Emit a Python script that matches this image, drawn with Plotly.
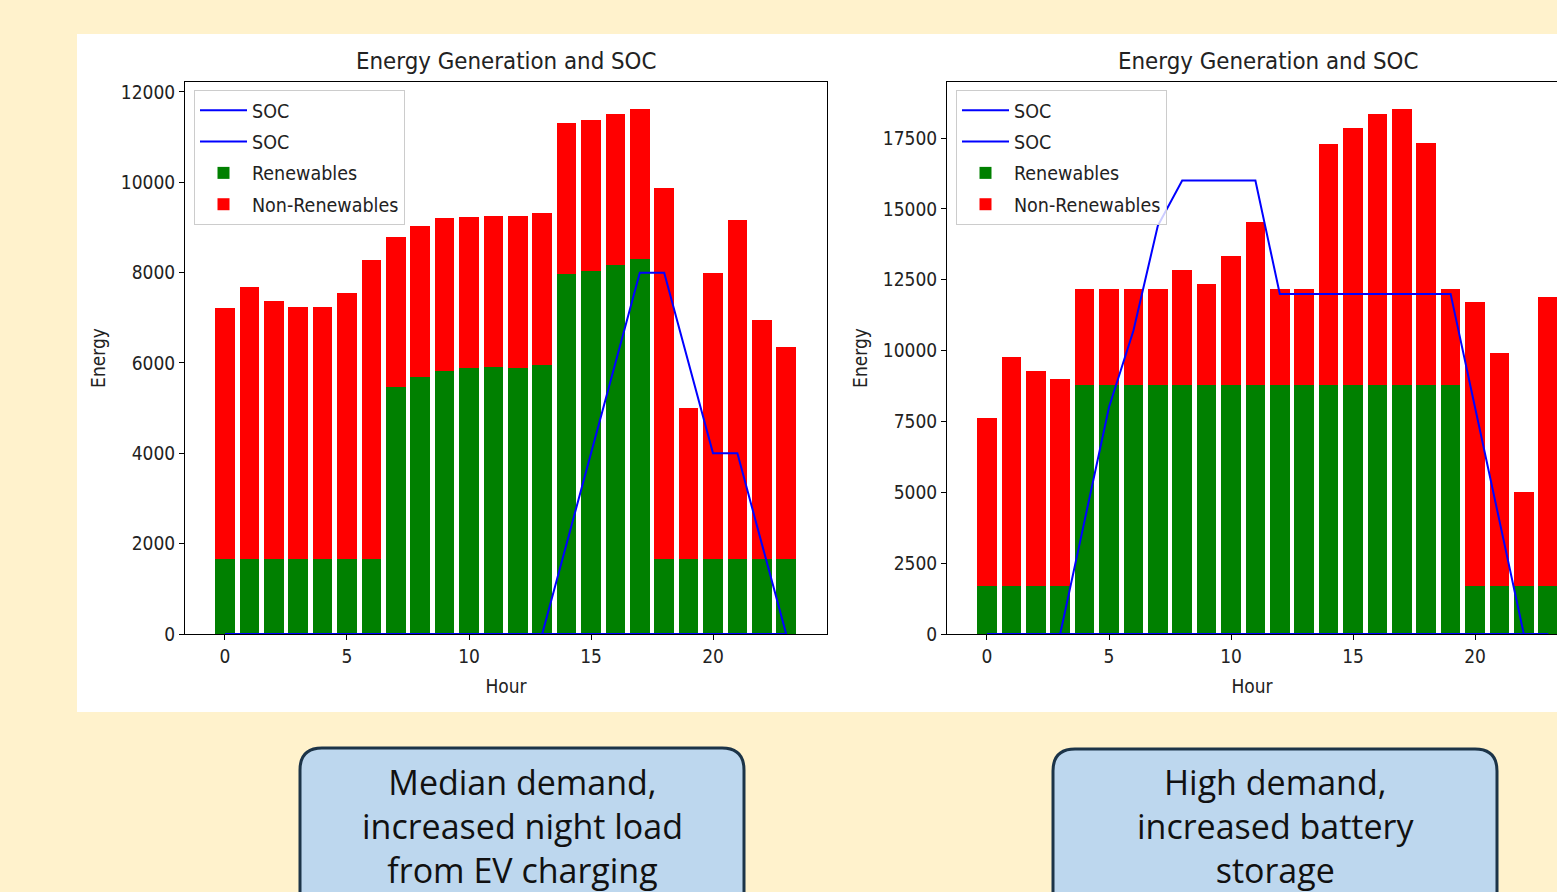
import plotly.graph_objects as go

# ---- canvas geometry (pixels) ----
W, H = 1557, 892


def px(x):
    return x / W


def py(y):
    return 1 - y / H


FONT = "DejaVu Sans Condensed, DejaVu Sans, sans-serif"
TXT = "#222222"

hours = list(range(24))

# ---- median demand scenario ----
median_renewables = [1650] * 7 + [5460, 5690, 5820, 5900, 5920, 5900, 5950,
                                  7970, 8030, 8170, 8300] + [1650] * 6
median_nonrenewables = [5570, 6030, 5730, 5590, 5590, 5890, 6620,
                        3340, 3340, 3380, 3330, 3330, 3350, 3380,
                        3340, 3340, 3340, 3330,
                        8230, 3350, 6350, 7510, 5300, 4700]
median_soc = [0] * 14 + [2000, 4000, 6000, 8000, 8000, 6000, 4000, 4000, 2000, 0]
median_soc_base = [0] * 24

# ---- high demand scenario ----
high_renewables = [1680] * 4 + [8800] * 16 + [1680] * 4
high_nonrenewables = [5950, 8080, 7590, 7330,
                      3370, 3370, 3370, 3370, 4050, 3540, 4540, 5720,
                      3370, 3370, 8480, 9050, 9530, 9720, 8530, 3370,
                      10020, 8220, 3330, 10220]
high_soc = [0, 0, 0, 0, 4000, 8000, 10700, 14400, 16000, 16000, 16000, 16000,
            12000, 12000, 12000, 12000, 12000, 12000, 12000, 12000,
            8000, 4000, 0, 0]
high_soc_base = [0] * 24

x_ticks = [0, 5, 10, 15, 20]
median_y_ticks = [0, 2000, 4000, 6000, 8000, 10000, 12000]
high_y_ticks = [0, 2500, 5000, 7500, 10000, 12500, 15000, 17500]

fig = go.Figure()


def add_panel(xa, ya, leg, soc, soc_base, renew, nonrenew):
    fig.add_trace(go.Scatter(x=hours, y=soc, mode="lines", name="SOC",
                             line=dict(color="blue", width=2),
                             xaxis=xa, yaxis=ya, legend=leg,
                             legendgroup=leg + "1", legendrank=1))
    fig.add_trace(go.Scatter(x=hours, y=soc_base, mode="lines", name="SOC",
                             line=dict(color="blue", width=2),
                             xaxis=xa, yaxis=ya, legend=leg,
                             legendgroup=leg + "2", legendrank=2))
    fig.add_trace(go.Bar(x=hours, y=renew, name="Renewables", width=0.8,
                         marker=dict(color="green", line=dict(width=0)),
                         xaxis=xa, yaxis=ya, legend=leg,
                         legendgroup=leg + "3", legendrank=3))
    fig.add_trace(go.Bar(x=hours, y=nonrenew, name="Non-Renewables", width=0.8,
                         marker=dict(color="red", line=dict(width=0)),
                         xaxis=xa, yaxis=ya, legend=leg,
                         legendgroup=leg + "4", legendrank=4))


add_panel("x", "y", "legend", median_soc, median_soc_base,
          median_renewables, median_nonrenewables)
add_panel("x2", "y2", "legend2", high_soc, high_soc_base,
          high_renewables, high_nonrenewables)

tick_font = dict(family=FONT, size=19, color=TXT)
axis_common = dict(ticks="outside", ticklen=5, tickwidth=1, tickcolor="black",
                   showline=True, linecolor="black", linewidth=1,
                   showgrid=False, zeroline=False, tickfont=tick_font,
                   fixedrange=True, automargin=False)

legend_common = dict(xanchor="left", yanchor="top",
                     bgcolor="rgba(255,255,255,0.8)", bordercolor="#cccccc",
                     borderwidth=1, font=dict(family=FONT, size=19.5, color=TXT),
                     traceorder="grouped", tracegroupgap=3, itemwidth=47)


def rounded_top_box(x0, y0, x1, y1, r):
    pts = [
        f"M{px(x0)},{py(y1)}",
        f"L{px(x0)},{py(y0 + r)}",
        f"Q{px(x0)},{py(y0)} {px(x0 + r)},{py(y0)}",
        f"L{px(x1 - r)},{py(y0)}",
        f"Q{px(x1)},{py(y0)} {px(x1)},{py(y0 + r)}",
        f"L{px(x1)},{py(y1)}",
        "Z",
    ]
    return " ".join(pts)


shapes = [
    # white card behind both charts
    dict(type="rect", xref="paper", yref="paper",
         x0=px(77), x1=1.01, y0=py(712), y1=py(34),
         fillcolor="white", line=dict(width=0), layer="below"),
    dict(type="path", xref="paper", yref="paper",
         path=rounded_top_box(300, 748, 744, 930, 22),
         fillcolor="#BDD7EE", line=dict(color="#1C3448", width=3)),
    dict(type="path", xref="paper", yref="paper",
         path=rounded_top_box(1053, 749, 1497, 930, 22),
         fillcolor="#BDD7EE", line=dict(color="#1C3448", width=3)),
]

title_font = dict(family=FONT, size=23.8, color=TXT)
box_font = dict(family="Open Sans, Lato, sans-serif", size=34, color="#111111")

annotations = [
    dict(text="Energy Generation and SOC", x=px(506), y=py(61),
         xref="paper", yref="paper", showarrow=False,
         xanchor="center", yanchor="middle", font=title_font),
    dict(text="Energy Generation and SOC", x=px(1268), y=py(61),
         xref="paper", yref="paper", showarrow=False,
         xanchor="center", yanchor="middle", font=title_font),
    dict(text="Median demand,<br>increased night load<br>from EV charging",
         x=px(522), y=py(826), xref="paper", yref="paper", showarrow=False,
         xanchor="center", yanchor="middle", align="center", font=box_font),
    dict(text="High demand,<br>increased battery<br>storage",
         x=px(1275), y=py(826), xref="paper", yref="paper", showarrow=False,
         xanchor="center", yanchor="middle", align="center", font=box_font),
]

label_font = dict(family=FONT, size=19, color=TXT)

fig.update_layout(
    width=W, height=H, autosize=False,
    margin=dict(l=0, r=0, t=0, b=0, pad=0, autoexpand=False),
    paper_bgcolor="#FFF2CC", plot_bgcolor="white",
    barmode="stack",
    xaxis=dict(domain=[px(185), px(827)], range=[-1.639, 24.672],
               tickvals=x_ticks, anchor="y", mirror=True,
               title=dict(text="Hour", standoff=13, font=label_font),
               **axis_common),
    yaxis=dict(domain=[py(634), py(82)], range=[0, 12221],
               tickvals=median_y_ticks, tickformat="d", anchor="x", mirror=True,
               title=dict(text="Energy", standoff=10, font=label_font),
               **axis_common),
    xaxis2=dict(domain=[px(947), 1.0], range=[-1.639, 23.36],
                tickvals=x_ticks, anchor="y2", mirror=True,
                title=dict(text="Hour", standoff=13, font=label_font),
                **axis_common),
    yaxis2=dict(domain=[py(634), py(82)], range=[0, 19476],
                tickvals=high_y_ticks, tickformat="d", anchor="x2", mirror=False,
                title=dict(text="Energy", standoff=10, font=label_font),
                **axis_common),
    legend=dict(x=px(194), y=py(90), **legend_common),
    legend2=dict(x=px(956), y=py(90), **legend_common),
    shapes=shapes,
    annotations=annotations,
)

fig.write_html("out.html")
